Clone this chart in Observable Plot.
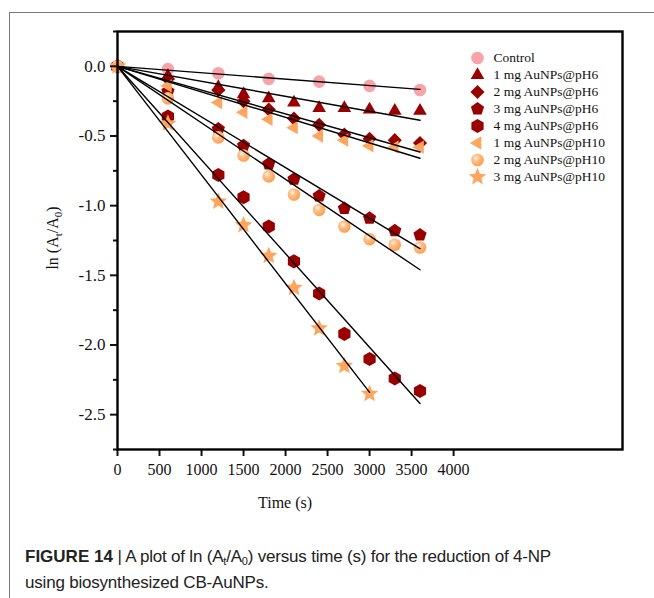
<!DOCTYPE html>
<html><head><meta charset="utf-8">
<script src="https://cdn.jsdelivr.net/npm/d3@7"></script>
<script src="https://cdn.jsdelivr.net/npm/@observablehq/plot@0.6"></script>
<style>
html,body{margin:0;padding:0;background:#fff;width:654px;height:598px;overflow:hidden;}
#wrap{position:relative;width:654px;height:598px;}
#frame{position:absolute;left:9px;top:12px;right:-5px;bottom:-5px;border-top:1.5px solid #7a7a7a;border-left:1.5px solid #7a7a7a;}
#chart{position:absolute;left:0;top:0;}
#legend{position:absolute;left:469px;top:47px;}
#caption{position:absolute;left:25px;top:544px;font-family:"Liberation Sans Narrow","Arial Narrow","Liberation Sans",Arial,sans-serif;font-size:17px;line-height:26px;color:#222;white-space:nowrap;letter-spacing:-0.2px;}
#caption b{letter-spacing:0;}
#caption sub{font-size:11px;vertical-align:-3px;line-height:0;}
</style>
</head><body>
<div id="wrap"><div id="frame"></div><div id="chart"></div><div id="legend"></div>
<div id="caption"><b>FIGURE 14</b> | A plot of ln (A<sub>t</sub>/A<sub>0</sub>) versus time (s) for the reduction of 4-NP<br>using biosynthesized CB-AuNPs.</div>
</div>
<script>
// ---- data ----
const seriesNames = ["Control","1 mg AuNPs@pH6","2 mg AuNPs@pH6","3 mg AuNPs@pH6","4 mg AuNPs@pH6","1 mg AuNPs@pH10","2 mg AuNPs@pH10","3 mg AuNPs@pH10"];
const times = [0, 600, 1200, 1500, 1800, 2100, 2400, 2700, 3000, 3300, 3600];
const controlTimes = [0, 600, 1200, 1800, 2400, 3000, 3600];
const starTimes = [0, 600, 1200, 1500, 1800, 2100, 2400, 2700, 3000];
const control  = [0, -0.02, -0.05, -0.09, -0.11, -0.14, -0.17];
const pH6_1mg  = [0, -0.07, -0.15, -0.20, -0.23, -0.26, -0.30, -0.30, -0.31, -0.32, -0.32];
const pH6_2mg  = [0, -0.09, -0.17, -0.25, -0.31, -0.375, -0.42, -0.49, -0.52, -0.53, -0.55];
const pH6_3mg  = [0, -0.18, -0.45, -0.57, -0.70, -0.81, -0.93, -1.02, -1.09, -1.18, -1.21];
const pH6_4mg  = [0, -0.36, -0.78, -0.94, -1.15, -1.40, -1.63, -1.92, -2.10, -2.24, -2.33];
const pH10_1mg = [0, -0.14, -0.26, -0.33, -0.38, -0.44, -0.50, -0.53, -0.57, -0.58, -0.58];
const pH10_2mg = [0, -0.23, -0.51, -0.64, -0.79, -0.92, -1.03, -1.15, -1.24, -1.28, -1.30];
const pH10_3mg = [0, -0.41, -0.97, -1.14, -1.36, -1.59, -1.88, -2.15, -2.35];
// linear fits through origin: end time and fitted value at end
const fitEndTime = [3600, 3600, 3600, 3600, 3600, 3600, 3600, 3000];
const fitEndValue = [-0.165, -0.387, -0.615, -1.308, -2.42, -0.66, -1.46, -2.34];
const xTicks = [0, 500, 1000, 1500, 2000, 2500, 3000, 3500, 4000];
const yTicks = [0, -0.5, -1.0, -1.5, -2.0, -2.5];
const yMinorTicks = [0.25, -0.25, -0.75, -1.25, -1.75, -2.25, -2.75];
const colors = ["#f7a3a9","#990000","#990000","#990000","#990000","#ffa65e","url(#ball)","#ffa65e"];

// ---- build tables ----
const seriesTimes = [controlTimes, times, times, times, times, times, times, starTimes];
const seriesValues = [control, pH6_1mg, pH6_2mg, pH6_3mg, pH6_4mg, pH10_1mg, pH10_2mg, pH10_3mg];
const points = [];
seriesNames.forEach((s, i) => seriesValues[i].forEach((v, j) => points.push({series: s, t: seriesTimes[i][j], v})));
const fits = [];
seriesNames.forEach((s, i) => { fits.push({series: s, t: 0, v: 0}); fits.push({series: s, t: fitEndTime[i], v: fitEndValue[i]}); });

// ---- symbols ----
function poly(n, rot, k) {
  return {draw(ctx, size) {
    const r = Math.sqrt(size / Math.PI) * k;
    for (let i = 0; i < n; i++) {
      const a = rot + 2 * Math.PI * i / n;
      const x = r * Math.cos(a), y = r * Math.sin(a);
      i ? ctx.lineTo(x, y) : ctx.moveTo(x, y);
    }
    ctx.closePath();
  }};
}
const star5 = {draw(ctx, size) {
  const R = Math.sqrt(size / Math.PI) * 1.45, ri = R * 0.45;
  for (let i = 0; i < 10; i++) {
    const a = -Math.PI / 2 + Math.PI * i / 5, rr = i % 2 ? ri : R;
    const x = rr * Math.cos(a), y = rr * Math.sin(a);
    i ? ctx.lineTo(x, y) : ctx.moveTo(x, y);
  }
  ctx.closePath();
}};
const symbols = [d3.symbolCircle, poly(3, -Math.PI/2, 1.25), poly(4, -Math.PI/2, 1.12), poly(5, -Math.PI/2, 1.1),
                 poly(6, -Math.PI/2, 1.12), poly(3, Math.PI, 1.22), d3.symbolCircle, star5];

const serif = '"Liberation Serif","Times New Roman",Times,serif';
const chart = Plot.plot({
  width: 654, height: 520,
  marginTop: 31, marginLeft: 117, marginRight: 32, marginBottom: 71,
  style: {fontFamily: serif, fontSize: "16px", color: "#111", background: "transparent", overflow: "visible"},
  x: {domain: [0, 6010]},
  y: {domain: [-2.75, 0.25]},
  color: {domain: seriesNames, range: colors},
  symbol: {domain: seriesNames, range: symbols},
  marks: [
    Plot.dot(points, {x: "t", y: "v", fill: "series", symbol: "series", r: 6.3, stroke: "none"}),
    Plot.line(fits, {x: "t", y: "v", z: "series", stroke: "#000", strokeWidth: 1.4}),
    Plot.axisX({ticks: xTicks, tickFormat: d => String(d), tickSize: 7, tickPadding: 7, strokeWidth: 2, label: null}),
    Plot.axisY({ticks: yTicks, tickFormat: d => d.toFixed(1), tickSize: 7, tickPadding: 5, strokeWidth: 2, label: null, fontSize: 17}),
    Plot.axisY({ticks: yMinorTicks, tickFormat: () => "", tickSize: 4, strokeWidth: 2, label: null}),
    Plot.frame({stroke: "#000", strokeWidth: 2.4})
  ]
});
document.getElementById("chart").appendChild(chart);
const svg = d3.select(chart);
svg.insert("defs", ":first-child").html(
  '<radialGradient id="ball" cx="0.38" cy="0.35" r="0.7"><stop offset="0" stop-color="#fff6ec"/><stop offset="0.35" stop-color="#ffc08a"/><stop offset="1" stop-color="#ff9a48"/></radialGradient>');
const xs = chart.scale("x"), ys = chart.scale("y");
// x label centred under the tick range
svg.append("text").attr("x", (xs.apply(xTicks[0]) + xs.apply(xTicks[xTicks.length-1])) / 2).attr("y", 508)
  .attr("text-anchor", "middle").attr("font-family", serif).attr("font-size", 16).attr("fill", "#111").text("Time (s)");
// y label with subscripts
const yl = svg.append("text").attr("transform", `translate(58,${(ys.apply(0.25) + ys.apply(-2.75)) / 2 - 2}) rotate(-90)`)
  .attr("text-anchor", "middle").attr("font-family", serif).attr("font-size", 16).attr("fill", "#111");
yl.append("tspan").text("ln (A");
yl.append("tspan").attr("font-size", 11).attr("dy", 4).text("t");
yl.append("tspan").attr("dy", -4).text("/A");
yl.append("tspan").attr("font-size", 11).attr("dy", 4).text("0");
yl.append("tspan").attr("dy", -4).text(")");

// ---- legend ----
const legend = Plot.plot({
  width: 175, height: 140, margin: 0,
  style: {fontFamily: serif, fontSize: "13.5px", color: "#111", background: "transparent", overflow: "visible"},
  x: {axis: null}, y: {type: "band", domain: seriesNames, axis: null, padding: 0},
  color: {domain: seriesNames, range: colors},
  symbol: {domain: seriesNames, range: symbols},
  marks: [
    Plot.dot(seriesNames, {y: d => d, fill: d => d, symbol: d => d, r: 6.3, frameAnchor: "left", dx: 8}),
    Plot.text(seriesNames, {y: d => d, text: d => d, frameAnchor: "left", dx: 24, textAnchor: "start", fill: "#111"})
  ]
});
document.getElementById("legend").appendChild(legend);
</script>
</body></html>
